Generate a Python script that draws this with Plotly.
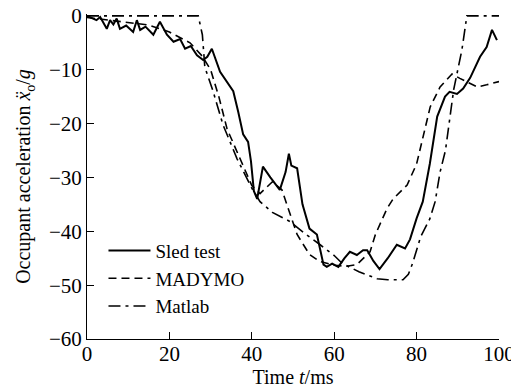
import plotly.graph_objects as go

# ---- data ----
sled_t = [0, 1, 2.3, 3.2, 4.8, 5.6, 6.4, 7.2, 8.0, 9.5, 11.2, 12.1, 12.9, 14.2, 16.1, 17.7,
          19.4, 21.0, 22.6, 23.8, 25.2, 26.7, 28.2, 29.2, 30.3, 32.3, 34.0, 35.5, 36.7, 37.9,
          39.1, 39.8, 40.5, 41.3, 42.7, 44.5, 46.8, 48.2, 49.0, 49.6, 51.0, 52.3, 54.0, 55.8,
          57.4, 58.2, 59.5, 61.0, 62.5, 63.8, 65.5, 67.0, 68.0, 69.5, 71.0, 73.0, 75.2, 77.2,
          78.4, 80.0, 81.5, 83.2, 85.0, 86.9, 88.0, 89.8, 91.3, 93.0, 95.4, 97.0, 98.3, 99.5]
sled_a = [0, -0.3, -0.8, -0.2, -2.4, -0.8, -1.6, -0.5, -2.4, -1.8, -3.0, -0.8, -2.6, -2.0, -3.5, -1.1,
          -3.5, -4.8, -4.3, -6.1, -5.6, -7.3, -8.2, -7.6, -6.1, -10.4, -12.2, -14.0, -17.8, -22.0,
          -23.4, -27.0, -32.5, -34.0, -28.0, -30.0, -32.3, -29.0, -25.6, -27.8, -28.3, -35.0, -39.5, -40.6,
          -46.2, -46.6, -46.0, -46.6, -45.0, -43.8, -44.4, -43.5, -43.5, -45.5, -47.0, -45.0, -42.5, -43.2,
          -41.5, -37.6, -34.5, -27.5, -18.7, -15.0, -14.1, -14.5, -13.5, -11.5, -7.6, -5.8, -2.6, -4.5]

madymo_t = [0, 5, 10, 15, 20, 25, 28, 30, 32, 34, 36, 38, 40, 42, 45, 47.3, 48.5, 51, 54, 56.5,
            60, 63, 65.5, 67, 68.7, 70, 72.8, 74.3, 77.7, 80, 82, 83.3, 85.7, 88.6, 90.5, 92.5,
            94.7, 97, 100]
madymo_a = [-0.3, -0.8, -1.2, -1.7, -3.0, -5.0, -7.5, -10.0, -15.0, -21.0, -24.5, -28.0, -31.5,
            -33.0, -30.8, -32.3, -35.0, -40.6, -44.3, -45.6, -46.3, -46.5, -46.2, -45.0, -43.8,
            -40.6, -35.8, -34.0, -31.4, -27.5, -21.0, -16.9, -13.2, -10.8, -11.6, -12.3,
            -13.2, -12.8, -12.2]

matlab_t = [0, 27.0, 28.0, 28.6, 30.6, 33.0, 36.4, 40.0, 42.0, 45.0, 49.3, 53.0, 56.6, 60.0, 62.0,
            66.0, 70.4, 73.0, 76.7, 78.0, 79.0, 81.0, 83.2, 84.5, 85.7, 87.0, 89.0, 91.0, 92.2, 100]
matlab_a = [0, 0, -3.5, -9.5, -14.0, -20.2, -26.5, -32.0, -34.5, -36.5, -38.2, -40.5, -42.5, -44.5,
            -46.0, -47.5, -48.8, -49.0, -49.0, -48.0, -46.0, -41.0, -37.7, -34.5, -29.0, -25.0,
            -13.7, -6.3, 0, 0]

x_ticks = [0, 20, 40, 60, 80, 100]
y_ticks = [0, -10, -20, -30, -40, -50, -60]
y_tick_text = ["0", "\u221210", "\u221220", "\u221230", "\u221240", "\u221250", "\u221260"]

FONT = "Liberation Serif"

fig = go.Figure()
fig.add_trace(go.Scatter(x=sled_t, y=sled_a, mode="lines", name="Sled test",
                         line=dict(color="black", width=2, dash="solid")))
fig.add_trace(go.Scatter(x=madymo_t, y=madymo_a, mode="lines", name="MADYMO",
                         line=dict(color="black", width=1.6, dash="8px,5px")))
fig.add_trace(go.Scatter(x=matlab_t, y=matlab_a, mode="lines", name="Matlab",
                         line=dict(color="black", width=1.6, dash="12px,5px,3px,5px")))

fig.update_layout(
    width=519, height=392,
    margin=dict(l=79, r=28, t=6, b=61, autoexpand=False),
    paper_bgcolor="white", plot_bgcolor="white",
    font=dict(family=FONT, size=20, color="black"),
    showlegend=True,
    legend=dict(x=0.04, y=0.33, xanchor="left", yanchor="top",
                bgcolor="rgba(0,0,0,0)", font=dict(size=19, family=FONT),
                itemwidth=42, tracegroupgap=0),
)
fig.update_xaxes(range=[0, 100], tickvals=x_ticks, ticktext=[str(v) for v in x_ticks],
                 ticks="inside", ticklen=7, tickwidth=1, tickcolor="black",
                 showline=True, linecolor="black", linewidth=1, mirror=False,
                 showgrid=False, zeroline=False, automargin=True,
                 ticklabeloverflow="allow", ticklabelstandoff=-4,
                 tickfont=dict(size=21, family=FONT),
                 title=dict(text="Time <i>t</i>/ms", font=dict(size=20, family=FONT), standoff=0))
fig.update_yaxes(range=[-60, 0.35], tickvals=y_ticks, ticktext=y_tick_text,
                 ticks="inside", ticklen=7, tickwidth=1, tickcolor="black",
                 showline=True, linecolor="black", linewidth=1, mirror=False,
                 showgrid=False, zeroline=False, automargin=True,
                 ticklabeloverflow="allow",
                 tickfont=dict(size=21, family=FONT),
                 title=dict(text="Occupant acceleration <i>\u1E8D</i><sub>o</sub>/<i>g</i>",
                            font=dict(size=20, family=FONT), standoff=12))

fig.write_html("out.html")
